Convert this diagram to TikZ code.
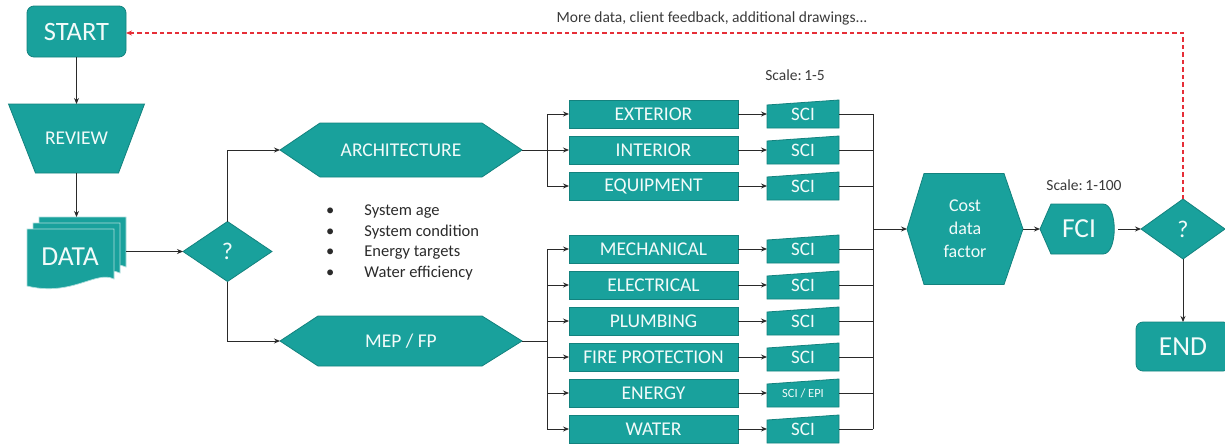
\documentclass[tikz,border=0pt]{standalone}
\usepackage{fontspec}
\setmainfont{Carlito}
\usetikzlibrary{arrows.meta,calc}
\pgfdeclarelayer{bg}
\pgfsetlayers{bg,main}
\definecolor{tealfill}{HTML}{19A19C}
\definecolor{tealline}{HTML}{13827E}
\definecolor{ink}{HTML}{2A2A2A}
\definecolor{fbred}{HTML}{E62E38}
\definecolor{lbltext}{HTML}{F2FBFA}
\definecolor{note}{HTML}{3A3A3A}
\newcommand{\fs}[1]{\fontsize{#1}{#1}\selectfont}
\begin{document}
\begin{tikzpicture}[x=1pt,y=-1pt,
  shp/.style={fill=tealfill, draw=tealline, line width=0.8pt},
  hold/.style={inner sep=0pt, outer sep=0pt, text=lbltext, align=center},
  boxnode/.style={shp, hold, minimum width=169, minimum height=28, font=\fs{19.5}},
  scinode/.style={hold, minimum width=72, minimum height=28, font=\fs{19}},
  docshp/.style={fill=tealfill, draw=white!65!tealfill, line width=0.7pt},
  conn/.style={draw=ink, line width=0.9pt, -{Stealth[length=6pt,width=5pt]}},
  wire/.style={draw=ink, line width=0.9pt},
  fb/.style={draw=fbred, line width=1.4pt, dash pattern=on 4.5pt off 3pt, -{Stealth[length=6pt,width=5pt]}},
  notetext/.style={text=note, inner sep=0pt}]
\useasboundingbox (0,0) rectangle (1225,447);
\clip (0,0) rectangle (1225,447);

% ---- left column: start, review, data stack ----
\node[shp, hold, rounded corners=7pt, minimum width=99, minimum height=51, font=\fs{26.5}] (start) at (76.5,31.5) {START};
\node[hold, minimum width=136, minimum height=69, font=\fs{19.5}] (review) at (76.5,138.5) {REVIEW};
\begin{pgfonlayer}{bg}
  \path[shp] (review.north west) -- (review.north east)
    -- ($(review.south east)+(-26,0)$) -- ($(review.south west)+(27,0)$) -- cycle;
\end{pgfonlayer}

% stacked documents, back copy first
\foreach \k in {2,1,0}{
  \path[docshp, shift={(6*\k,-6*\k)}] (27,229) -- (114,229) -- (114,279)
    .. controls (96,270) and (72,297) .. (27,286) -- cycle;
}
\node[hold, minimum width=99, minimum height=69] (datastack) at (76.5,251.5) {};
\node[hold, font=\fs{27.5}] (datatxt) at (70,257) {DATA};

% ---- first decision ----
\node[hold, minimum width=89, minimum height=60, font=\fs{24}] (dq) at (227.5,251.5) {?};

% ---- discipline groups ----
\node[hold, minimum width=242, minimum height=54, font=\fs{19.5}] (arch) at (401,150) {ARCHITECTURE};
\node[hold, minimum width=242, minimum height=50, font=\fs{19.5}] (mep) at (401,341) {MEP / FP};

% ---- system boxes ----
\node[boxnode] (ext)  at (653.5,114) {EXTERIOR};
\node[boxnode] (int)  at (653.5,150) {INTERIOR};
\node[boxnode] (equ)  at (653.5,186) {EQUIPMENT};
\node[boxnode] (mech) at (653.5,249) {MECHANICAL};
\node[boxnode] (elec) at (653.5,285) {ELECTRICAL};
\node[boxnode] (plum) at (653.5,321) {PLUMBING};
\node[boxnode] (fire) at (653.5,357) {FIRE PROTECTION};
\node[boxnode] (ener) at (653.5,393) {ENERGY};
\node[boxnode] (wat)  at (653.5,429) {WATER};

% ---- condition index inputs ----
\node[scinode] (s1) at (803,114) {\raisebox{-2pt}{SCI}};
\node[scinode] (s2) at (803,150) {\raisebox{-2pt}{SCI}};
\node[scinode] (s3) at (803,186) {\raisebox{-2pt}{SCI}};
\node[scinode] (s4) at (803,249) {\raisebox{-2pt}{SCI}};
\node[scinode] (s5) at (803,285) {\raisebox{-2pt}{SCI}};
\node[scinode] (s6) at (803,321) {\raisebox{-2pt}{SCI}};
\node[scinode] (s7) at (803,357) {\raisebox{-2pt}{SCI}};
\node[scinode, font=\fs{12.5}] (s8) at (803,393) {\raisebox{-2pt}{SCI / EPI}};
\node[scinode] (s9) at (803,429) {\raisebox{-2pt}{SCI}};

% ---- cost, FCI, final decision, end ----
\node[hold, minimum width=116, minimum height=111, font=\fontsize{18}{23}\selectfont] (cost) at (965,229) {Cost\\data\\factor};
\node[hold, minimum width=78, minimum height=50, font=\fs{27.5}] (fci) at (1079,229) {FCI};
\node[hold, minimum width=84, minimum height=60, font=\fs{24}] (dq2) at (1183,229) {?};
\node[shp, hold, rounded corners=7pt, minimum width=94, minimum height=49, font=\fs{27.5}] (endn) at (1183,346.5) {END};

% ---- shape outlines behind the labels ----
\begin{pgfonlayer}{bg}
  \path[shp] (dq.north) -- (dq.east) -- (dq.south) -- (dq.west) -- cycle;
  \path[shp] (dq2.north) -- (dq2.east) -- (dq2.south) -- (dq2.west) -- cycle;
  \path[shp] (arch.west) -- ($(arch.north west)+(40,0)$) -- ($(arch.north east)+(-40,0)$)
    -- (arch.east) -- ($(arch.south east)+(-40,0)$) -- ($(arch.south west)+(40,0)$) -- cycle;
  \path[shp] (mep.west) -- ($(mep.north west)+(38,0)$) -- ($(mep.north east)+(-40,0)$)
    -- (mep.east) -- ($(mep.south east)+(-40,0)$) -- ($(mep.south west)+(38,0)$) -- cycle;
  \foreach \s in {s1,s2,s3,s4,s5,s6,s7,s8,s9}{
    \path[shp] ($(\s.north west)+(0,5)$) -- (\s.north east) -- (\s.south east) -- (\s.south west) -- cycle;
  }
  \path[shp] (cost.west) -- ($(cost.north west)+(17,0)$) -- ($(cost.north east)+(-19,0)$)
    -- (cost.east) -- ($(cost.south east)+(-19,0)$) -- ($(cost.south west)+(17,0)$) -- cycle;
  \path[shp] (fci.west) -- ($(fci.north west)+(11,0)$) -- ($(fci.north east)+(-15,0)$)
    .. controls (fci.north east) and (fci.south east) .. ($(fci.south east)+(-15,0)$)
    -- ($(fci.south west)+(11,0)$) -- cycle;
\end{pgfonlayer}

% ---- notes ----
\node[anchor=north west, notetext, text=ink, font=\fontsize{16.5}{20.5}\selectfont] (bul) at (326,201)
  {\begin{tabular}{@{}l@{\hspace{30pt}}l@{}}
    \textbullet & System age\\
    \textbullet & System condition\\
    \textbullet & Energy targets\\
    \textbullet & Water efficiency
  \end{tabular}};
\node[notetext, font=\fs{15.5}] (scale5) at (795,75) {Scale:\,1-5};
\node[notetext, font=\fs{15.5}] (scale100) at (1084,185) {Scale:\,1-100};
\node[notetext, font=\fs{15.5}] (fbnote) at (712,18) {More data, client feedback, additional drawings...};

% ---- connectors: left column ----
\draw[conn] (start.south) -- (review.north);
\draw[conn] (review.south) -- (datastack.north);
\draw[conn] (datastack.east) -- (dq.west);
\draw[conn] (dq.north) |- (arch.west);
\draw[conn] (dq.south) |- (mep.west);

% ---- connectors: fan-out to systems ----
\coordinate (ab) at ($(arch.east)+(25,0)$);
\coordinate (mb) at ($(mep.east)+(25,0)$);
\draw[wire] (arch.east) -- (ab);
\draw[wire] (mep.east) -- (mb);
\foreach \b in {ext,int,equ}{ \draw[conn] (ab) |- (\b.west); }
\foreach \b in {mech,elec,plum,fire,ener,wat}{ \draw[conn] (mb) |- (\b.west); }
\foreach \b/\s in {ext/s1,int/s2,equ/s3,mech/s4,elec/s5,plum/s6,fire/s7,ener/s8,wat/s9}{
  \draw[conn] (\b.east) -- (\s.west);
}

% ---- connectors: collecting bus ----
\coordinate (rb) at ($(cost.west)+(-34,0)$);
\foreach \s in {s1,s2,s3,s4,s5,s6,s7,s8,s9}{ \draw[wire] (\s.east) -- (\s.east -| rb); }
\draw[wire] (rb |- s1.east) -- (rb |- s9.east);
\draw[conn] (rb) -- (cost.west);
\draw[conn] (cost.east) -- (fci.west);
\draw[conn] (fci.east) -- (dq2.west);
\draw[conn] (dq2.south) -- (endn.north);

% ---- feedback loop ----
\coordinate (fbin) at ($(start.east)+(0,1.5)$);
\draw[fb] (dq2.north) |- (fbin);
\end{tikzpicture}
\end{document}
